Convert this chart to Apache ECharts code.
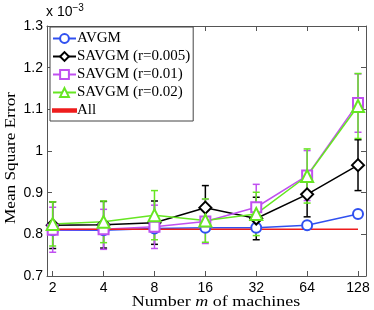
<!DOCTYPE html>
<html><head><meta charset="utf-8">
<script src="https://cdn.jsdelivr.net/npm/echarts@6/dist/echarts.min.js"></script>
<style>html,body{margin:0;padding:0;background:#fff}#c{width:374px;height:310px}</style>
</head><body><div id="c"></div>
<script>
var machines = [2, 4, 8, 16, 32, 64, 128];
var tickLabels = ['2', '4', '8', '16', '32', '64', '128'];
var seriesNames = ['AVGM', 'SAVGM (r=0.005)', 'SAVGM (r=0.01)', 'SAVGM (r=0.02)', 'All'];
var avgm = [0.810, 0.810, 0.814, 0.816, 0.816, 0.822, 0.849];
var avgmErr = [0.005, 0.005, 0.005, 0.005, 0.005, 0.005, 0.008];
var sav005 = [0.822, 0.823, 0.828, 0.864, 0.838, 0.896, 0.966];
var sav005Err = [0.056, 0.056, 0.052, 0.053, 0.051, 0.054, 0.061];
var sav01 = [0.811, 0.812, 0.818, 0.831, 0.865, 0.941, 1.115];
var sav01Err = [0.054, 0.048, 0.052, 0.053, 0.055, 0.060, 0.070];
var sav02 = [0.825, 0.830, 0.846, 0.833, 0.849, 0.940, 1.108];
var sav02Err = [0.053, 0.050, 0.059, 0.052, 0.052, 0.065, 0.078];
var allVal = [0.812, 0.812, 0.812, 0.812, 0.812, 0.812, 0.812];

var colors = ['#3050f0', '#000000', '#c050f0', '#66e622', '#ee1c1c'];
var xs = machines.map(function (m) { return Math.log2(m); });
function pts(vals) { return vals.map(function (v, i) { return [xs[i], v]; }); }
function errData(vals, errs) { return vals.map(function (v, i) { return [xs[i], v - errs[i], v + errs[i]]; }); }

function errSeries(vals, errs, color) {
  return {
    type: 'custom', silent: true, z: 1,
    data: errData(vals, errs),
    encode: { x: 0, y: [1, 2] },
    renderItem: function (params, api) {
      var x = api.value(0);
      var lo = api.coord([x, api.value(1)]);
      var hi = api.coord([x, api.value(2)]);
      var w = 3.5;
      var st = { stroke: color, lineWidth: 1.5 };
      return { type: 'group', children: [
        { type: 'line', shape: { x1: lo[0], y1: lo[1], x2: hi[0], y2: hi[1] }, style: st },
        { type: 'line', shape: { x1: lo[0] - w, y1: lo[1], x2: lo[0] + w, y2: lo[1] }, style: st },
        { type: 'line', shape: { x1: hi[0] - w, y1: hi[1], x2: hi[0] + w, y2: hi[1] }, style: st }
      ] };
    }
  };
}
function lineSeries(name, vals, color, symbol, size) {
  return {
    name: name, type: 'line', data: pts(vals), z: 2,
    symbol: symbol, symbolSize: size,
    lineStyle: { color: color, width: 1.5 },
    itemStyle: { color: color, borderColor: color, borderWidth: 1.3 },
    emphasis: { disabled: true }
  };
}

var chart = echarts.init(document.getElementById('c'), null, { renderer: 'canvas' });
var labelFont = { fontFamily: 'Liberation Sans', fontSize: 14, color: '#000' };
var legendData = seriesNames.map(function (n, i) {
  return i === 4 ? { name: n, icon: 'path://M0 0 H30 V3 H0 Z' } : { name: n };
});
chart.setOption({
  animation: false,
  color: colors,
  grid: { left: 47, right: 8, top: 26, bottom: 34 },
  legend: {
    orient: 'vertical', left: 50, top: 27,
    data: legendData,
    backgroundColor: '#fff', borderColor: '#444', borderWidth: 1,
    padding: [4, 3, 3, 2], itemGap: 3, itemWidth: 23, itemHeight: 11,
    textStyle: { fontFamily: 'Liberation Serif', fontSize: 15, color: '#000', padding: [0, 0, 0, -4] }
  },
  xAxis: [{
    type: 'value', min: 0.888, max: 7.157,
    axisLine: { lineStyle: { color: '#555' } },
    axisTick: { inside: true, length: 5, customValues: xs, lineStyle: { color: '#555' } },
    axisLabel: Object.assign({ customValues: xs, margin: 5, formatter: function (v) { return tickLabels[xs.indexOf(v)]; } }, labelFont),
    splitLine: { show: false }
  }, {
    type: 'value', position: 'top', min: 0.888, max: 7.157,
    axisLine: { show: true, lineStyle: { color: '#555' } },
    axisTick: { inside: true, length: 5, customValues: xs, lineStyle: { color: '#555' } },
    axisLabel: { show: false }, splitLine: { show: false }
  }],
  yAxis: [{
    type: 'value', min: 0.7, max: 1.3, interval: 0.1,
    axisLine: { show: true, lineStyle: { color: '#555' } },
    axisTick: { inside: true, length: 5, lineStyle: { color: '#555' } },
    axisLabel: Object.assign({ margin: 4, formatter: function (v) { return String(Math.round(v * 10) / 10); } }, labelFont),
    splitLine: { show: false }
  }, {
    type: 'value', position: 'right', min: 0.7, max: 1.3, interval: 0.1,
    axisLine: { show: true, lineStyle: { color: '#555' } },
    axisTick: { inside: true, length: 5, lineStyle: { color: '#555' } },
    axisLabel: { show: false }, splitLine: { show: false }
  }],
  graphic: [
    { type: 'text', left: 46, top: 3, style: { rich: { a: { fontFamily: 'Liberation Sans', fontSize: 14, color: '#000' }, s: { fontFamily: 'Liberation Sans', fontSize: 10, color: '#000', verticalAlign: 'top', padding: [0, 0, 8, 0] } }, text: '{a|x 10}{s|−3}' } },
    { type: 'text', x: 11, y: 158, rotation: Math.PI / 2, scaleX: 1.15, style: { text: 'Mean Square Error', fontFamily: 'Liberation Serif', fontSize: 15, fill: '#000', align: 'center', verticalAlign: 'middle' } },
    { type: 'text', x: 216, y: 302, scaleX: 1.2, style: { rich: { n: { fontFamily: 'Liberation Serif', fontSize: 15, color: '#444' }, i: { fontFamily: 'Liberation Serif', fontStyle: 'italic', fontSize: 15, color: '#444' } }, text: '{n|Number }{i|m}{n| of machines}', align: 'center', verticalAlign: 'middle' } }
  ],
  series: [
    errSeries(avgm, avgmErr, colors[0]),
    errSeries(sav005, sav005Err, colors[1]),
    errSeries(sav01, sav01Err, colors[2]),
    errSeries(sav02, sav02Err, colors[3]),
    lineSeries(seriesNames[0], avgm, colors[0], 'emptyCircle', 10),
    lineSeries(seriesNames[1], sav005, colors[1], 'emptyDiamond', 12),
    lineSeries(seriesNames[2], sav01, colors[2], 'emptyRect', 10),
    lineSeries(seriesNames[3], sav02, colors[3], 'emptyTriangle', 12),
    lineSeries(seriesNames[4], allVal, colors[4], 'none', 0)
  ]
});
</script></body></html>
